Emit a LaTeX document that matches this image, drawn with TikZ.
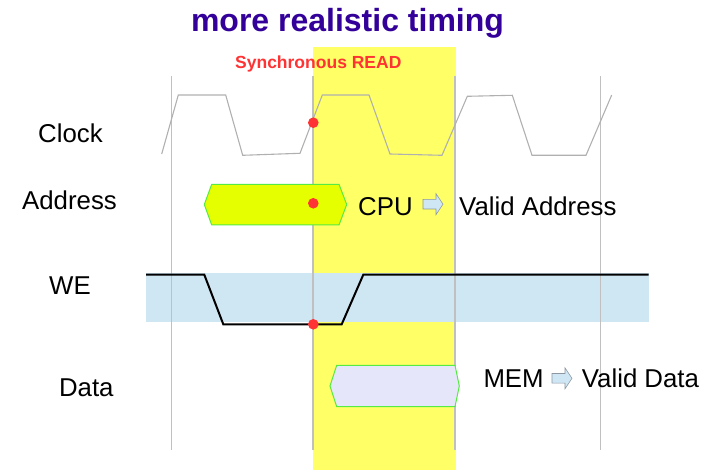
\documentclass[tikz,border=0pt]{standalone}
\usepackage{fontspec}
\setmainfont{Liberation Sans}
\definecolor{titlepurple}{RGB}{51,0,153}
\definecolor{syncred}{RGB}{255,51,51}
\definecolor{bandyellow}{RGB}{255,255,102}
\definecolor{gridgray}{RGB}{192,192,192}
\definecolor{clockgray}{RGB}{176,176,176}
\definecolor{weblue}{RGB}{207,230,243}
\definecolor{addrfill}{RGB}{230,255,0}
\definecolor{datafill}{RGB}{230,230,250}
\definecolor{busgreen}{RGB}{85,235,68}
\definecolor{arrowfill}{RGB}{207,231,245}
\definecolor{arrowedge}{RGB}{140,150,160}
\tikzset{
  lbl/.style={anchor=base, inner sep=0pt, font=\fontsize{25.8}{31}\selectfont},
  gridline/.style={draw=gridgray, line width=1.2pt},
  clockwave/.style={draw=clockgray, line width=1.1pt},
  welevel/.style={draw=black, line width=2pt},
  bus/.style={draw=busgreen, line width=1pt},
  sample/.style={fill=syncred},
  blockarrow/.pic={
    \path[fill=arrowfill, draw=arrowedge, line width=0.6pt]
      (-10,-4.8) -- (3,-4.8) -- (3,-10.5) -- (10,0) -- (3,10.5) -- (3,4.8)
      -- (-10,4.8) -- cycle;
  }
}
\begin{document}
\begin{tikzpicture}[x=1pt,y=-1pt]
  \useasboundingbox (0,0) rectangle (721,470);

  % read window
  \fill[bandyellow] (313,47.5) rectangle (456,470);

  % WE band
  \fill[weblue] (146,273.5) rectangle (648.5,322.5);

  % cycle boundaries
  \foreach \gx in {171.3,313,455,600.7}
    \draw[gridline] (\gx,76) -- (\gx,450.5);

  % titles
  \node[anchor=base, inner sep=0pt, text=titlepurple,
        font=\fontsize{32}{38}\selectfont\bfseries] (title) at (347.5,31.5)
        {more realistic timing};
  \node[anchor=base, inner sep=0pt, text=syncred,
        font=\fontsize{17.5}{21}\selectfont\bfseries] (sync) at (318.3,69)
        {Synchronous READ};

  % signal names
  \node[lbl] (clk)  at (70.5,142.3) {Clock};
  \node[lbl] (addr) at (69.5,209.3) {Address};
  \node[lbl] (we)   at (70,295)     {WE};
  \node[lbl] (data) at (86.3,396.7) {Data};

  % clock
  \draw[clockwave] (161.7,154) -- (178.3,95) -- (225.7,95) -- (242.7,155.3)
    -- (300,153.3) -- (322.3,95) -- (369,95) -- (390,154) -- (442,155.3)
    -- (467.3,96.3) -- (512.3,95.3) -- (532,155.3) -- (586,155.3) -- (611.7,95);

  % address bus
  \path[bus, fill=addrfill] (204.3,204.5) -- (211.7,184.3) -- (339,184.3)
    -- (346.7,204.5) -- (339,225) -- (211.7,225) -- cycle;

  % write enable
  \draw[welevel] (146,274.7) -- (204.3,274.7) -- (223.3,324.3) -- (341.7,324.3)
    -- (363.3,274.7) -- (648.5,274.7);

  % data bus
  \path[bus, fill=datafill] (330,386) -- (336.7,365.3) -- (455,365.3)
    -- (459.3,386) -- (455,406.7) -- (336.7,406.7) -- cycle;

  % sampling points
  \fill[sample] (313.3,122.7) circle[radius=5.3pt];
  \fill[sample] (313.3,203.3) circle[radius=5.3pt];
  \fill[sample] (313.3,324.3) circle[radius=5.3pt];

  % annotations
  \node[lbl, anchor=base west] (cpu) at (358,216) {CPU};
  \pic at (433,204.2) {blockarrow};
  \node[lbl, anchor=base west] (va) at (459,216) {Valid Address};

  \node[lbl, anchor=base west] (mem) at (483.3,387.3) {MEM};
  \pic at (562,378.3) {blockarrow};
  \node[lbl, anchor=base west] (vd) at (581.7,387.3) {Valid Data};
\end{tikzpicture}
\end{document}
